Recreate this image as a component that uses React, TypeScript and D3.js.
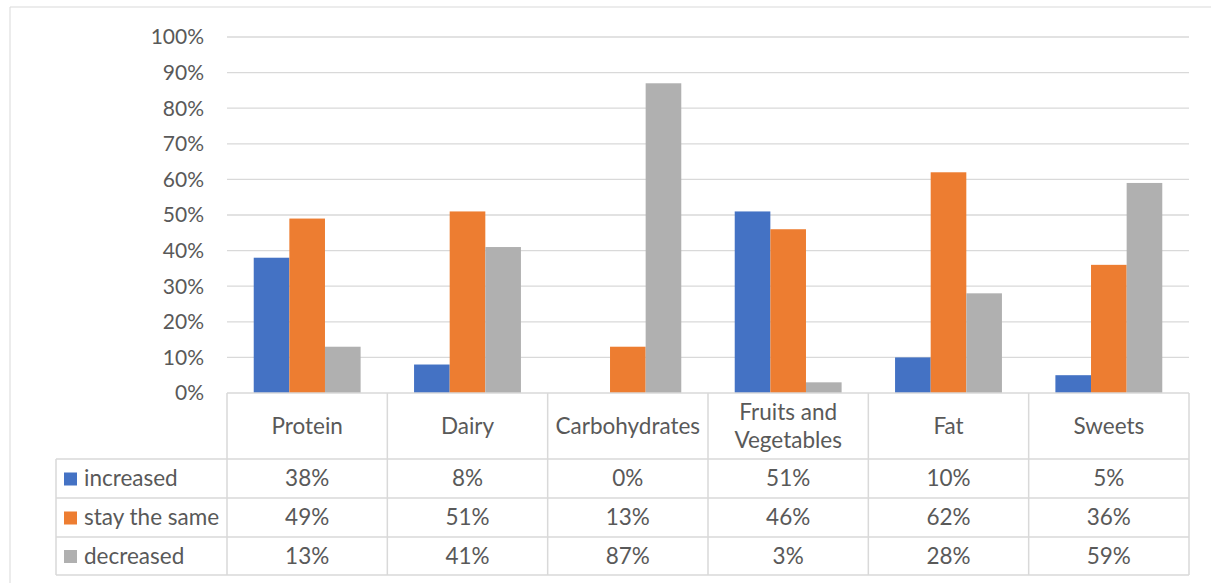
import * as d3 from "d3";

const categories = ["Protein", "Dairy", "Carbohydrates", "Fruits and Vegetables", "Fat", "Sweets"];
const seriesNames = ["increased", "stay the same", "decreased"];
const increased = [0.38, 0.08, 0, 0.51, 0.1, 0.05];
const stayTheSame = [0.49, 0.51, 0.13, 0.46, 0.62, 0.36];
const decreased = [0.13, 0.41, 0.87, 0.03, 0.28, 0.59];
const colors = ["#4472c4", "#ed7d31", "#b0b0b0"];
const yTicks = [0, 0.1, 0.2, 0.3, 0.4, 0.5, 0.6, 0.7, 0.8, 0.9, 1];

export default function App() {
  const width = 1211;
  const height = 583;
  const plotLeft = 227;
  const plotRight = 1189;
  const plotTop = 37;
  const plotBottom = 393;
  const legendLeft = 56;
  const rowLines = [393, 459, 498, 537, 575];
  const font = "Lato, 'Open Sans', sans-serif";
  const textColor = "#595959";
  const gridColor = "#d9d9d9";
  const tableSize = 22.5;

  const values = [increased, stayTheSame, decreased];

  const x0 = d3.scaleBand().domain(categories).range([plotLeft, plotRight]).padding(0);
  const x1 = d3.scaleBand().domain(seriesNames).range([0, x0.bandwidth()]).paddingInner(0).paddingOuter(0.75);
  const y = d3.scaleLinear().domain([0, 1]).range([plotBottom, plotTop]);
  const fmt = d3.format(".0%");

  const colEdges = categories.map((c) => x0(c)!).concat([plotRight]);

  return (
    <svg width={width} height={height} style={{ position: "absolute", left: 0, top: 0, background: "#fff" }}>
      {/* outer frame */}
      <line x1={10} x2={width} y1={7} y2={7} stroke={gridColor} />
      <line x1={10} x2={10} y1={7} y2={height} stroke={gridColor} />

      {/* gridlines + y labels */}
      {yTicks.map((t) => (
        <g key={t}>
          {t > 0 && <line x1={plotLeft} x2={plotRight} y1={y(t)} y2={y(t)} stroke={gridColor} strokeWidth={1.3} />}
          <text x={204} y={y(t)} dy="0.35em" textAnchor="end" fontFamily={font} fontSize={21} fill={textColor}>
            {fmt(t)}
          </text>
        </g>
      ))}

      {/* bars */}
      {values.map((vals, si) => (
        <g key={si} fill={colors[si]}>
          {vals.map((v, ci) => (
            <rect
              key={ci}
              x={x0(categories[ci])! + x1(seriesNames[si])!}
              y={y(v)}
              width={x1.bandwidth()}
              height={plotBottom - y(v)}
            />
          ))}
        </g>
      ))}

      {/* data table */}
      <g stroke={gridColor} strokeWidth={1.5}>
        <line x1={plotLeft} x2={plotRight} y1={rowLines[0]} y2={rowLines[0]} />
        {rowLines.slice(1).map((ry) => (
          <line key={ry} x1={legendLeft} x2={plotRight} y1={ry} y2={ry} />
        ))}
        <line x1={legendLeft} x2={legendLeft} y1={rowLines[1]} y2={rowLines[4]} />
        {colEdges.map((cx) => (
          <line key={cx} x1={cx} x2={cx} y1={rowLines[0]} y2={rowLines[4]} />
        ))}
      </g>

      {/* header row */}
      {categories.map((c) => {
        const cx = x0(c)! + x0.bandwidth() / 2;
        const lines = c === "Fruits and Vegetables" ? ["Fruits and", "Vegetables"] : [c];
        const mid = (rowLines[0] + rowLines[1]) / 2;
        return (
          <text key={c} x={cx} textAnchor="middle" fontFamily={font} fontSize={tableSize} fill={textColor}>
            {lines.map((l, i) => (
              <tspan key={i} x={cx} y={mid + (i - (lines.length - 1) / 2) * 28} dy="0.35em">
                {l}
              </tspan>
            ))}
          </text>
        );
      })}

      {/* value rows */}
      {values.map((vals, si) => {
        const mid = (rowLines[si + 1] + rowLines[si + 2]) / 2;
        return (
          <g key={si}>
            <rect x={64} y={mid - 6} width={13} height={13} fill={colors[si]} />
            <text x={84} y={mid} dy="0.35em" fontFamily={font} fontSize={tableSize} fill={textColor}>
              {seriesNames[si]}
            </text>
            {vals.map((v, ci) => (
              <text
                key={ci}
                x={x0(categories[ci])! + x0.bandwidth() / 2}
                y={mid}
                dy="0.35em"
                textAnchor="middle"
                fontFamily={font}
                fontSize={tableSize}
                fill={textColor}
              >
                {fmt(v)}
              </text>
            ))}
          </g>
        );
      })}
    </svg>
  );
}
